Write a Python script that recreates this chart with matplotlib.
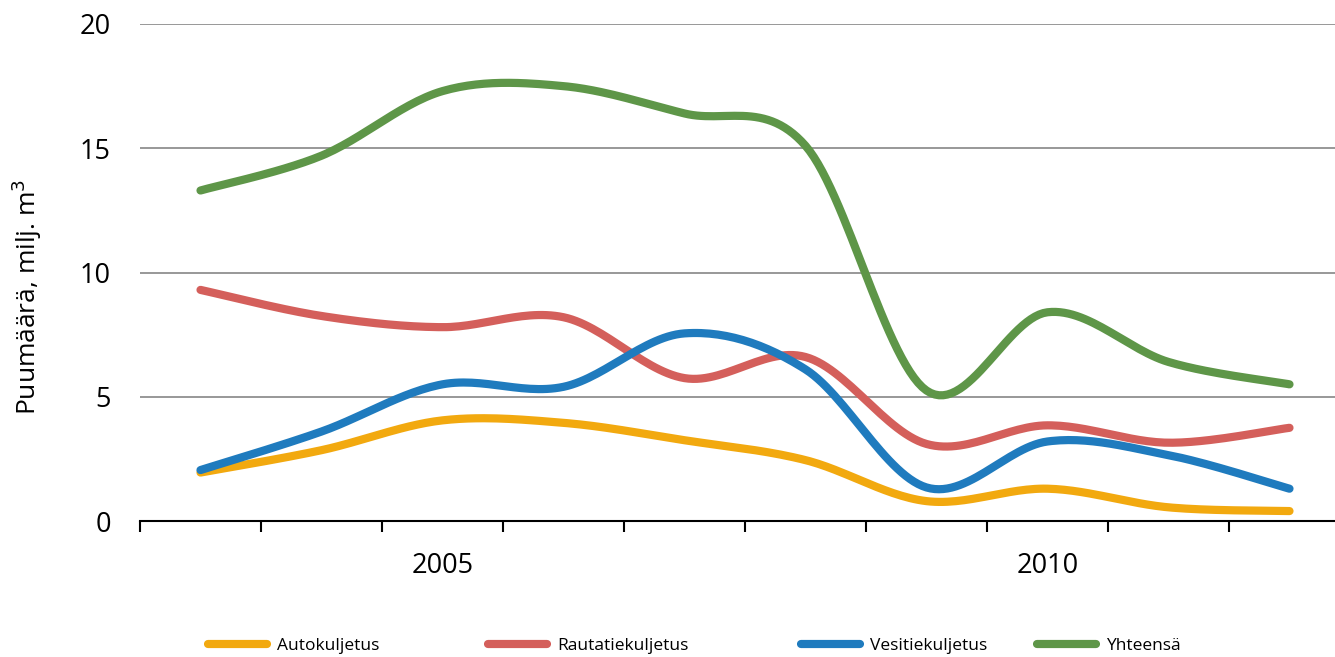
import numpy as np
import matplotlib
matplotlib.use("Agg")
import matplotlib.pyplot as plt
from matplotlib.lines import Line2D

years = [2003, 2004, 2005, 2006, 2007, 2008, 2009, 2010, 2011, 2012]
auto = [1.95, 2.85, 4.05, 3.95, 3.25, 2.45, 0.8, 1.3, 0.55, 0.4]
rauta = [9.3, 8.25, 7.8, 8.2, 5.75, 6.6, 3.1, 3.85, 3.15, 3.75]
vesi = [2.05, 3.6, 5.5, 5.4, 7.55, 6.1, 1.35, 3.2, 2.65, 1.3]
yht = [13.3, 14.7, 17.3, 17.5, 16.4, 15.1, 5.25, 8.4, 6.4, 5.5]
series_names = ["Autokuljetus", "Rautatiekuljetus", "Vesitiekuljetus", "Yhteensä"]
colors = ["#F2A90F", "#D45F5B", "#1F7BBE", "#5E9648"]
yticks = [0, 5, 10, 15, 20]
xlabels = ["2005", "2010"]

plt.rcParams['font.family'] = ['Open Sans', 'DejaVu Sans']

def smooth(x, y, n=30):
    x = np.asarray(x, float); y = np.asarray(y, float)
    P = np.column_stack([x, y])
    out = [P[0]]
    for i in range(len(P) - 1):
        p0 = P[i - 1] if i > 0 else P[i]
        p1 = P[i]; p2 = P[i + 1]
        p3 = P[i + 2] if i + 2 < len(P) else P[i + 1]
        c1 = p1 + (p2 - p0) / 6.0
        c2 = p2 - (p3 - p1) / 6.0
        t = np.linspace(0, 1, n)[1:, None]
        seg = ((1 - t) ** 3) * p1 + 3 * ((1 - t) ** 2) * t * c1 + 3 * (1 - t) * t ** 2 * c2 + t ** 3 * p2
        out.extend(seg)
    out = np.array(out)
    return out[:, 0], out[:, 1]

W, H = 1335, 657
fig = plt.figure(figsize=(W / 100, H / 100), dpi=100)
left, right, top, bottom = 140, 1350, 24, 521
ax = fig.add_axes([left / W, (H - bottom) / H, (right - left) / W, (bottom - top) / H])

xs = np.arange(len(years))
for vals, c in zip([auto, rauta, vesi, yht], colors):
    sx, sy = smooth(xs, vals)
    ax.plot(sx, sy, color=c, lw=5.9, solid_capstyle='round', zorder=3)

ax.set_xlim(-0.5, len(years) - 0.5)
ax.set_ylim(0, 20)
ax.set_yticks(yticks)
ax.set_yticklabels([str(v) for v in yticks], fontsize=19.5)
for v in yticks[1:]:
    ax.axhline(v, color='#868686', lw=1.2, zorder=1)
for s in ['top', 'right', 'left']:
    ax.spines[s].set_visible(False)
ax.spines['bottom'].set_color('black')
ax.spines['bottom'].set_linewidth(1.5)
ax.tick_params(axis='y', length=0, pad=21)

ax.set_xticks(np.arange(-0.5, len(years) + 0.5, 1.0))
ax.set_xticklabels([])
ax.tick_params(axis='x', which='major', length=8, width=1.5, color='black', direction='out')
pos = [years.index(int(l)) for l in xlabels]
ax.set_xticks(pos, minor=True)
ax.set_xticklabels(xlabels, minor=True, fontsize=19.5)
ax.tick_params(axis='x', which='minor', length=0, pad=22)

ax.set_ylabel("Puumäärä, milj. m$^3$", fontsize=19)
ax.yaxis.set_label_coords(-0.079, 0.45)

xpos = [208, 488, 801, 1037]
for name, c, xp in zip(series_names, colors, xpos):
    h = Line2D([0], [0], color=c, lw=5.9, solid_capstyle='round')
    fig.legend([h], [name], loc='center left', bbox_to_anchor=(xp / W, (H - 646) / H),
               frameon=False, fontsize=12.5, handlelength=3.4, handletextpad=0.6,
               borderpad=0, borderaxespad=0)

fig.savefig("out.png", dpi=100)
